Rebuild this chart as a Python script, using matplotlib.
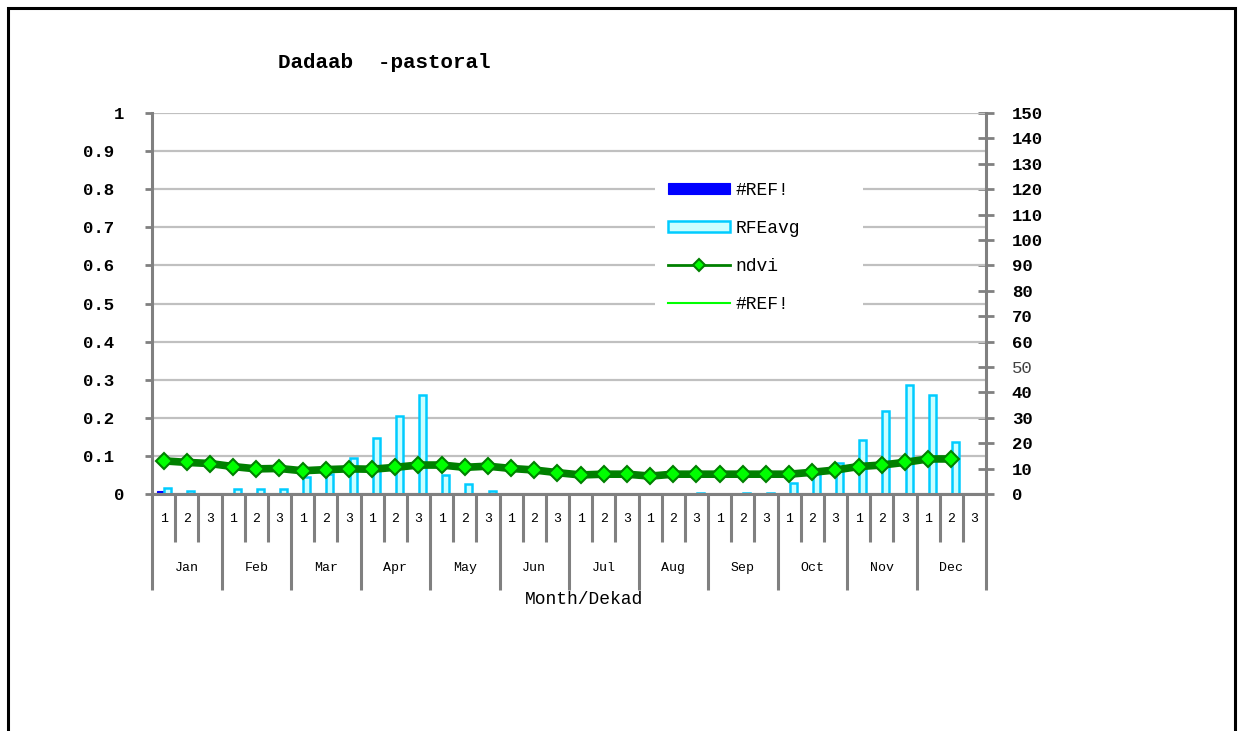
import matplotlib
matplotlib.use('Agg')
import matplotlib.pyplot as plt
import numpy as np
from matplotlib.ticker import MultipleLocator
from matplotlib.patches import Rectangle
from matplotlib.transforms import blended_transform_factory

plt.rcParams['font.family'] = ['Liberation Mono', 'DejaVu Sans Mono']

# data
months = ['Jan', 'Feb', 'Mar', 'Apr', 'May', 'Jun', 'Jul', 'Aug', 'Sep', 'Oct', 'Nov', 'Dec']
dekads = ['1', '2', '3'] * 12

ref_bars = [1.0] + [0] * 35
rfe_avg = [2.5, 1.3, 0, 1.8, 1.8, 1.8, 6.8, 7.8, 14.3, 22.2, 30.7, 39.0,
           7.5, 3.9, 1.2, 0, 0, 0, 0, 0, 0, 0, 0, 0.3,
           0, 0.2, 0.2, 4.2, 8.0, 12.3, 21.3, 32.7, 42.9, 39.0, 20.6, 0]
ndvi = [0.087, 0.083, 0.080, 0.072, 0.066, 0.067, 0.061, 0.064, 0.066,
        0.065, 0.070, 0.076, 0.076, 0.070, 0.073, 0.067, 0.063, 0.056,
        0.050, 0.052, 0.052, 0.047, 0.052, 0.052, 0.052, 0.052, 0.052,
        0.052, 0.057, 0.063, 0.072, 0.076, 0.083, 0.092, 0.092, np.nan]
ref_line = []  # #REF! series, no values

left_ticks = [0, 0.1, 0.2, 0.3, 0.4, 0.5, 0.6, 0.7, 0.8, 0.9, 1]
left_labels = ['0', '0.1 ', '0.2 ', '0.3 ', '0.4 ', '0.5 ', '0.6 ', '0.7 ', '0.8 ', '0.9 ', '1']
right_ticks = list(range(0, 151, 10))
right_labels = [str(v) for v in right_ticks]

W, H = 1241, 731
gray = '#808080'
grid_col = '#C0C0C0'

fig = plt.figure(figsize=(W / 100, H / 100), dpi=100, facecolor='white')
ax = fig.add_axes([152 / W, 1 - 494 / H, 834 / W, 381 / H])
ax2 = ax.twinx()
ax.set_zorder(3)
ax.patch.set_visible(False)

x = np.arange(36) + 0.5

# bars on the right axis (rainfall)
b1 = ax2.bar(x - 0.15, ref_bars, width=0.3, color='#0000FF', edgecolor='#0000FF',
             linewidth=0.8, label='#REF!')
b2 = ax2.bar(x + 0.18, rfe_avg, width=0.3, color='#CCFFFF', edgecolor='#00CCFF',
             linewidth=1.8, label='RFEavg')

# ndvi on the left axis
l1, = ax.plot(x, ndvi, '-D', color='#008000', linewidth=5.5, markersize=8.5,
              markerfacecolor='#00FF00', markeredgecolor='#008000', markeredgewidth=1.5,
              label='ndvi')
l2, = ax.plot(ref_line, ref_line, '-', color='#00FF00', linewidth=1.5, label='#REF!')

ax.set_xlim(0, 36)
ax.set_ylim(0, 1)
ax2.set_ylim(0, 150)

# gridlines every 0.1 of the left scale, drawn behind the bars
ax2.yaxis.remove_overlapping_locs = False
ax2.yaxis.set_minor_locator(MultipleLocator(15))
ax2.grid(which='minor', axis='y', color=grid_col, linewidth=1.6)
ax2.set_axisbelow(True)
ax2.tick_params(axis='y', which='minor', length=0)

# left axis
ax.set_yticks(left_ticks, left_labels)
ax.tick_params(axis='y', direction='out', length=5, width=2, color=gray, pad=15,
               labelsize=12.5)
for t in ax.get_yticklabels():
    t.set_fontweight('bold')

# right axis
ax2.set_yticks(right_ticks, right_labels)
ax2.tick_params(axis='y', which='major', direction='inout', length=11, width=2,
                color=gray, pad=13, labelsize=12.5)
for t in ax2.get_yticklabels():
    t.set_fontweight('bold')
ax2.get_yticklabels()[5].set_fontweight('normal')
ax2.get_yticklabels()[5].set_color('#404040')

# x axis: month and dekad separators
ax.set_xticks(range(0, 37, 3))
ax.set_xticks([i for i in range(37) if i % 3 != 0], minor=True)
ax.tick_params(axis='x', which='major', direction='out', length=69, width=2.2,
               color=gray, labelbottom=False)
ax.tick_params(axis='x', which='minor', direction='out', length=34.5, width=2.2,
               color=gray, labelbottom=False)

trans = blended_transform_factory(ax.transData, ax.transAxes)
for i, d in enumerate(dekads):
    ax.text(i + 0.5, -25 / 381, d, transform=trans, ha='center', va='center', fontsize=9.5)
for i, m in enumerate(months):
    ax.text(3 * i + 1.5, -74 / 381, m, transform=trans, ha='center', va='center', fontsize=9.5)
ax.text((584.5 - 152) / 834, -106 / 381, 'Month/Dekad', transform=ax.transAxes,
        ha='center', va='center', fontsize=13)

for s in ['left', 'bottom']:
    ax.spines[s].set_color(gray)
    ax.spines[s].set_linewidth(2.2)
ax.spines['top'].set_visible(False)
ax.spines['right'].set_visible(False)
for s in ['left', 'bottom', 'top']:
    ax2.spines[s].set_visible(False)
ax2.spines['right'].set_color(gray)
ax2.spines['right'].set_linewidth(2.2)

# legend
leg = ax.legend([b1, b2, l1, l2], ['#REF!', 'RFEavg', 'ndvi', '#REF!'],
                loc='upper left', bbox_to_anchor=(0.603, 0.40, 0.25, 0.455),
                mode='expand', borderaxespad=0, borderpad=0.75, handlelength=3.4,
                handletextpad=0.3, handleheight=0.55, labelspacing=1.16,
                fontsize=13, frameon=True, fancybox=False, framealpha=1,
                facecolor='white', edgecolor='none')
hl = leg.legend_handles[2]
hl.set_linewidth(2)
hl.set_markersize(6)

# title
fig.text(384 / W, 1 - 63 / H, 'Dadaab  -pastoral', ha='center', va='center',
         fontsize=15, fontweight='bold')

# outer chart border
fig.add_artist(Rectangle((8 / W, -0.1), (1235 - 8) / W, 1.1 - 8 / H,
                         transform=fig.transFigure, fill=False,
                         edgecolor='black', linewidth=2.2))

fig.savefig('out.png', dpi=100, facecolor='white')
